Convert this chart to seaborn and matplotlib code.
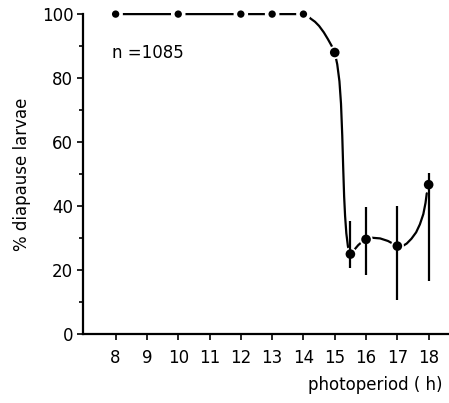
import numpy as np
import pandas as pd
import matplotlib
matplotlib.use("Agg")
import matplotlib.pyplot as plt
import seaborn as sns

# Measured diapause incidence per photoperiod
photoperiod = [8, 10, 12, 13, 14, 15, 15.5, 16, 17, 18]
diapause_pct = [100, 100, 100, 100, 100, 88, 25, 29.6, 27.5, 46.7]
err_low = [None, None, None, None, None, None, 20.6, 18.4, 10.6, 16.6]
err_high = [None, None, None, None, None, None, 35.4, 39.6, 40.1, 50.4]

# Hand-fitted response curve through the points
curve_x = [8, 14, 14.12, 14.23, 14.37, 14.5, 14.65, 14.78, 14.9, 15.0,
           15.08, 15.15, 15.2, 15.24, 15.27, 15.30, 15.33, 15.37, 15.42,
           15.47, 15.5, 15.62, 15.75, 15.88, 16.0, 16.2, 16.45, 16.7, 16.85,
           17.0, 17.15, 17.3, 17.45, 17.6, 17.72, 17.83, 17.9, 17.94]
curve_y = [100, 100, 99.5, 98.6, 97.6, 96.3, 94.3, 92.2, 90.1, 88,
           84.3, 79, 72, 62, 52, 43, 37, 31.5, 27.5,
           25.5, 25, 26.3, 27.8, 28.9, 29.6, 30.1, 29.9, 29.1, 28.3,
           27.5, 27.4, 28.3, 29.8, 31.8, 34.3, 37.5, 41, 44]

tick_hours = list(range(8, 19))
y_major = [0, 20, 40, 60, 80, 100]
y_minor = [10, 30, 50, 70, 90]

df = pd.DataFrame({"photoperiod": photoperiod, "pct": diapause_pct})
curve = pd.DataFrame({"x": curve_x, "y": curve_y})

sns.set_style("ticks")
plt.rcParams["font.family"] = ["DejaVu Sans"]
for key in ("text.color", "axes.labelcolor", "xtick.color", "ytick.color",
            "axes.edgecolor"):
    plt.rcParams[key] = "black"

fig = plt.figure(figsize=(4.49, 4.03), dpi=100)
ax = fig.add_axes([0.185, 0.171, 0.815, 0.794])

sns.lineplot(data=curve, x="x", y="y", ax=ax, color="black", lw=1.6,
             sort=False, estimator=None, clip_on=False)

small = df[df["pct"] >= 99]
large = df[df["pct"] < 99]
# white halos leave a small gap in the curve around each point
sns.scatterplot(data=small, x="photoperiod", y="pct", ax=ax, color="white",
                s=110, edgecolor="none", zorder=4, clip_on=False)
sns.scatterplot(data=small, x="photoperiod", y="pct", ax=ax, color="black",
                s=28, edgecolor="none", zorder=5, clip_on=False)
sns.scatterplot(data=large, x="photoperiod", y="pct", ax=ax, color="white",
                s=90, edgecolor="none", zorder=4)
sns.scatterplot(data=large, x="photoperiod", y="pct", ax=ax, color="black",
                s=48, edgecolor="none", zorder=6)
# error bars stay continuous through the markers
for x, lo, hi in zip(photoperiod, err_low, err_high):
    if lo is not None:
        ax.plot([x, x], [lo, hi], color="black", lw=1.6,
                solid_capstyle="butt", zorder=5)

ax.set_xlim(6.96, 18.65)
ax.set_ylim(0, 100)
ax.set_xticks(tick_hours)
ax.set_xticklabels([str(h) for h in tick_hours], fontsize=12)
ax.set_yticks(y_major)
ax.set_yticklabels([str(v) for v in y_major], fontsize=12)
ax.set_yticks(y_minor, minor=True)
ax.tick_params(axis="both", which="major", direction="out", length=4,
               width=1.2, pad=3)
ax.tick_params(axis="y", which="minor", direction="out", length=3, width=1.2)
ax.tick_params(axis="x", pad=7)

sns.despine(ax=ax)
ax.spines["left"].set_linewidth(1.6)
ax.spines["bottom"].set_linewidth(1.6)
ax.spines["left"].set_bounds(0, 100)

ax.set_xlabel("")
ax.set_ylabel("% diapause larvae", fontsize=12, labelpad=8)
fig.text(0.985, 0.045, "photoperiod ( h)", ha="right", va="center", fontsize=12)
ax.text(7.9, 88, "n =1085", fontsize=12, ha="left", va="center")

fig.savefig("out.png", dpi=100, facecolor="white")
